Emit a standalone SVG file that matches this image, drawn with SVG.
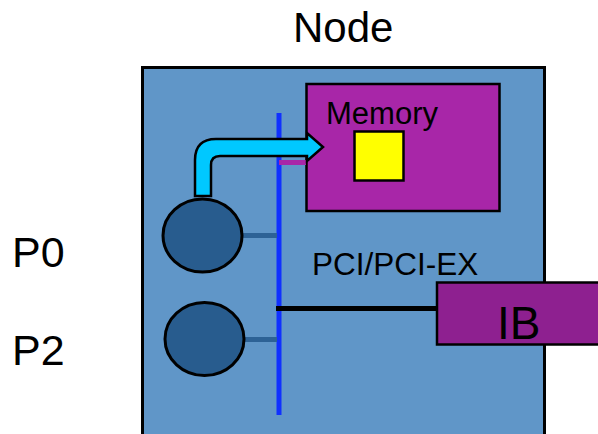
<svg xmlns="http://www.w3.org/2000/svg" width="598" height="434" viewBox="0 0 598 434">
<style>
text{font-family:"Liberation Sans",Arial,sans-serif;fill:#000}
.cpu{fill:#285C8E;stroke:#000;stroke-width:3}
.stub{stroke:#2D6296;stroke-width:5}
</style>
<rect width="598" height="434" fill="#fff"/>
<text x="293" y="42" font-size="42">Node</text>
<text x="12" y="267" font-size="43">P0</text>
<text x="12" y="365" font-size="43">P2</text>
<g id="node">
<rect x="142.5" y="67.5" width="402" height="380" fill="#6096C8" stroke="#000" stroke-width="3"/>
</g>
<g id="memory">
<rect x="306.5" y="84" width="193" height="127" fill="#A826A8" stroke="#000" stroke-width="2.5"/>
<text x="326" y="124" font-size="31">Memory</text>
<rect x="354.5" y="131.5" width="49" height="49" fill="#FFFF00" stroke="#000" stroke-width="2.5"/>
</g>
<g id="ib">
<rect x="437" y="282.5" width="175" height="62" fill="#8E2090" stroke="#000" stroke-width="2.5"/>
<text x="497" y="339" font-size="46">IB</text>
</g>
<g id="pci">
<text x="312" y="275" font-size="31.5">PCI/PCI-EX</text>
</g>
<g id="connectors">
<line x1="279" y1="113" x2="279" y2="415" stroke="#1030FF" stroke-width="5"/>
<line x1="279" y1="162.5" x2="306" y2="162.5" stroke="#A826A8" stroke-width="5"/>
<line x1="276" y1="308.5" x2="437" y2="308.5" stroke="#000" stroke-width="5"/>
<line x1="241" y1="235.5" x2="277" y2="235.5" class="stub"/>
<line x1="243" y1="339.5" x2="277" y2="339.5" class="stub"/>
<path d="M195,196 V160 Q195,139 216,139 H307 V133 L323,147 L307,161 V156 H220 Q211,156 211,165 V196 Z" fill="#00C8FF" stroke="#000" stroke-width="2.5" stroke-linejoin="miter"/>
</g>
<g id="p0"><ellipse cx="202.5" cy="235.5" rx="39.5" ry="36.5" class="cpu"/></g>
<g id="p2"><ellipse cx="204.5" cy="339" rx="39.5" ry="36.5" class="cpu"/></g>
</svg>
